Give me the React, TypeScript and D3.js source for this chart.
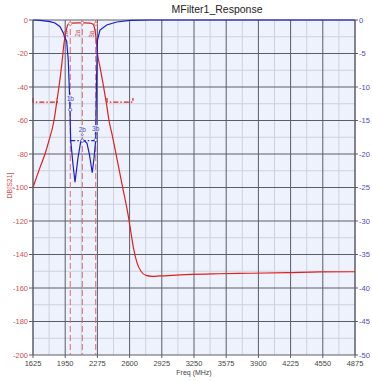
import React from 'react';
import { scaleLinear, line, curveMonotoneX, curveLinear } from 'd3';

const width = 372;
const height = 381;
const margin = { top: 20, right: 17, bottom: 26, left: 33 };
const innerWidth = width - margin.left - margin.right;
const innerHeight = height - margin.top - margin.bottom;

// S21 (red, left axis)
const redFreq = [1625, 1696, 1746, 1786, 1837, 1867, 1887, 1918, 1938, 1958, 1972, 1985, 2019, 2080, 2140, 2200, 2231, 2248, 2264, 2276, 2301, 2332, 2352, 2372, 2392, 2422, 2463, 2523, 2584, 2614, 2639, 2675, 2715, 2766, 2826, 2907, 3169, 3500, 3815, 4200, 4522, 4875];
const redDb = [-100, -88, -80, -72, -60, -48, -40, -25, -14, -7, -3.5, -2.4, -1.9, -1.7, -1.7, -1.9, -2.5, -5.4, -12, -20, -28, -38, -45, -52, -60, -68, -80, -98, -116, -127, -136, -145, -150, -152.5, -153, -152.8, -152, -151.5, -151.2, -150.8, -150.4, -150.3];

// S11 (blue, right axis)
const blueFreq = [1625, 1696, 1797, 1847, 1898, 1931, 1953, 1965, 1981, 1991, 1998, 2005, 2029, 2049, 2079, 2106, 2127, 2150, 2170, 2195, 2223, 2241, 2258, 2266, 2276, 2301, 2369, 2470, 2604, 2806, 4875];
const blueDb = [0, -0.05, -0.25, -0.45, -1.0, -1.95, -2.8, -3.2, -6, -10, -13.4, -17.9, -21.6, -24.2, -20.6, -18.2, -18, -18.1, -18.4, -20.1, -22.8, -20.6, -17.9, -9, -3, -1.5, -0.75, -0.3, -0.07, 0, 0];

const xTicks = [1625, 1950, 2275, 2600, 2925, 3250, 3575, 3900, 4225, 4550, 4875];
const leftTicks = [0, -20, -40, -60, -80, -100, -120, -140, -160, -180, -200];
const rightTicks = [0, -5, -10, -15, -20, -25, -30, -35, -40, -45, -50];

const markerFreq = [2001, 2123, 2258];
const markerRedDb = [-2.2, -1.7, -2.3];
const markerBlueDb = [-13.4, -18, -17.9];
const markerLabelsA = ['1a', '2a', '3a'];
const markerLabelsB = ['1b', '2b', '3b'];

// spec masks
const redSpecFreq = [[1625, 1870], [2372, 2634]];
const redSpecDb = -49;
const blueSpecFreq = [2001, 2270];
const blueSpecDb = -18;

const font = "'Liberation Sans', Arial, sans-serif";

export default function App() {
  const x = scaleLinear().domain([1625, 4875]).range([0, innerWidth]);
  const yL = scaleLinear().domain([-200, 0]).range([innerHeight, 0]);
  const yR = scaleLinear().domain([-50, 0]).range([innerHeight, 0]);

  const redLine = line<number>()
    .x((d, i) => x(redFreq[i]))
    .y((d) => yL(d))
    .curve(curveMonotoneX);
  const blueLine = line<number>()
    .x((d, i) => x(blueFreq[i]))
    .y((d) => yR(d))
    .curve(curveLinear);

  const minorX = xTicks.slice(1).map((v, i) => (v + xTicks[i]) / 2);
  const minorY = leftTicks.slice(1).map((v, i) => (v + leftTicks[i]) / 2);

  return (
    <svg width={width} height={height} style={{ position: 'absolute', left: 0, top: 0 }} fontFamily={font}>
      <rect width={width} height={height} fill="#fff" />
      <text x={217} y={13} fontSize={10.5} textAnchor="middle" fill="#222">MFilter1_Response</text>
      <g transform={`translate(${margin.left},${margin.top})`}>
        <rect width={innerWidth} height={innerHeight} fill="#eef2fd" />
        {minorX.map((v, i) => (
          <line key={'mx' + i} x1={x(v)} x2={x(v)} y1={0} y2={innerHeight} stroke="#cdd1dd" strokeWidth={1} />
        ))}
        {minorY.map((v, i) => (
          <line key={'my' + i} y1={yL(v)} y2={yL(v)} x1={0} x2={innerWidth} stroke="#cdd1dd" strokeWidth={1} />
        ))}
        {xTicks.map((v, i) => (
          <g key={'x' + i}>
            <line x1={x(v)} x2={x(v)} y1={0} y2={innerHeight + 3} stroke="#5c5c68" strokeWidth={1} />
            <text x={x(v)} y={innerHeight + 11} fontSize={7.5} textAnchor="middle" fill="#444">{v}</text>
          </g>
        ))}
        {leftTicks.map((v, i) => (
          <g key={'l' + i}>
            <line x1={-4} x2={innerWidth} y1={yL(v)} y2={yL(v)} stroke="#5c5c68" strokeWidth={1} />
            <text x={-5} y={yL(v) + 2.5} fontSize={7.5} textAnchor="end" fill="#d05050">{v}</text>
          </g>
        ))}
        {rightTicks.map((v, i) => (
          <g key={'r' + i}>
            <line x1={innerWidth} x2={innerWidth + 3} y1={yR(v)} y2={yR(v)} stroke="#5c5c68" strokeWidth={1} />
            <text x={innerWidth + 4} y={yR(v) + 2.5} fontSize={7.5} textAnchor="start" fill="#4a4ac0">{v}</text>
          </g>
        ))}
        <line x1={innerWidth} x2={innerWidth} y1={0} y2={innerHeight} stroke="#5c5c68" />

        {markerFreq.map((f, i) => (
          <line key={'mk' + i} x1={x(f)} x2={x(f)} y1={0} y2={innerHeight} stroke="#e06a6a" strokeWidth={1} strokeDasharray="6,3" />
        ))}

        {redSpecFreq.map((s, i) => (
          <path key={'rs' + i}
            d={`M${x(s[0])},${yL(redSpecDb + 2.5)}V${yL(redSpecDb)}H${x(s[1])}V${yL(redSpecDb + 2.5)}`}
            fill="none" stroke="#e02020" strokeWidth={1.2} strokeDasharray="5,2,1.5,2" />
        ))}
        <line x1={x(blueSpecFreq[0])} x2={x(blueSpecFreq[1])} y1={yR(blueSpecDb)} y2={yR(blueSpecDb)}
          stroke="#2020d0" strokeWidth={1.2} strokeDasharray="5,2,1.5,2" />

        <path d={redLine(redDb) || ''} fill="none" stroke="#e02020" strokeWidth={1.2} />
        <path d={blueLine(blueDb) || ''} fill="none" stroke="#1c1cd0" strokeWidth={1.2} />

        {markerFreq.map((f, i) => (
          <g key={'ma' + i}>
            <circle cx={x(f)} cy={yL(markerRedDb[i])} r={1.6} fill="#fff" stroke="#e06a6a" strokeWidth={0.8} />
            <text transform={`translate(${x(f) - 2},${yL(markerRedDb[i]) + 14}) rotate(-90)`} fontSize={6.5} fill="#d05050">{markerLabelsA[i]}</text>
          </g>
        ))}
        {markerFreq.map((f, i) => (
          <g key={'mb' + i}>
            <rect x={x(f) - 4} y={yR(markerBlueDb[i]) - 15} width={8} height={7} fill="#eef2fd" opacity={0.8} />
            <text x={x(f)} y={yR(markerBlueDb[i]) - 9} fontSize={6.5} textAnchor="middle" fill="#4a4ac0">{markerLabelsB[i]}</text>
            <path d={`M${x(f) - 1.2},${yR(markerBlueDb[i]) - 6.5}L${x(f)},${yR(markerBlueDb[i]) - 4.5}L${x(f) + 1.2},${yR(markerBlueDb[i]) - 6.5}`} fill="none" stroke="#4a4ac0" strokeWidth={0.6} />
            <circle cx={x(f)} cy={yR(markerBlueDb[i])} r={1.6} fill="#fff" stroke="#4a4ac0" strokeWidth={0.8} />
          </g>
        ))}

        <line x1={0} x2={0} y1={0} y2={innerHeight} stroke="#5c5c68" />
        <text transform={`translate(${-21},${innerHeight / 2 - 2}) rotate(-90)`} fontSize={7} textAnchor="middle" fill="#d05050">DB[S21]</text>
        <text x={innerWidth / 2} y={innerHeight + 20} fontSize={7} textAnchor="middle" fill="#444">Freq (MHz)</text>
      </g>
    </svg>
  );
}
